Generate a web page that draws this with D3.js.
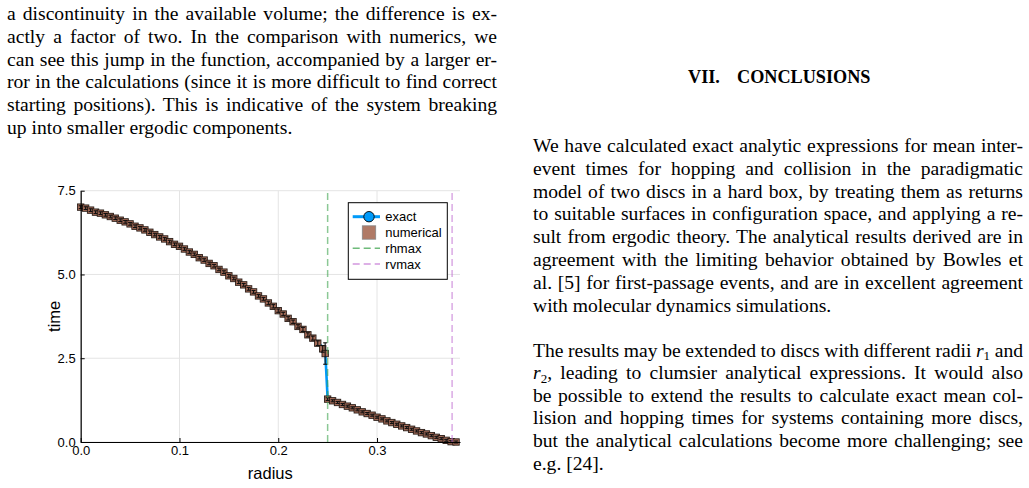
<!DOCTYPE html>
<html>
<head>
<meta charset="utf-8">
<script src="https://cdn.jsdelivr.net/npm/d3@7"></script>
<style>
body { margin: 0; background: #fff; }
svg { display: block; }
.page text { font-family: "Liberation Serif", "Times New Roman", serif; font-size: 19.6px; fill: #000; }
.chart text { font-family: "Liberation Sans", Arial, Helvetica, sans-serif; fill: #000; }
</style>
</head>
<body>
<svg id="page" width="1029" height="488"></svg>
<script>
/*global d3*/

// mean time vs disc radius
const radius = [
    0.000, 0.005, 0.010, 0.015, 0.020, 0.025, 0.030, 0.035, 0.040, 0.045,
    0.050, 0.055, 0.060, 0.065, 0.070, 0.075, 0.080, 0.085, 0.090, 0.095,
    0.100, 0.105, 0.110, 0.115, 0.120, 0.125, 0.130, 0.135, 0.140, 0.145,
    0.150, 0.155, 0.160, 0.165, 0.170, 0.175, 0.180, 0.185, 0.190, 0.195,
    0.200, 0.205, 0.210, 0.215, 0.220, 0.225, 0.230, 0.235, 0.240, 0.245,
    0.2475,
    0.250, 0.255, 0.260, 0.265, 0.270, 0.275, 0.280, 0.285, 0.290, 0.295,
    0.300, 0.305, 0.310, 0.315, 0.320, 0.325, 0.330, 0.335, 0.340, 0.345,
    0.350, 0.355, 0.360, 0.365, 0.370, 0.375, 0.380
];
const exactTime = [
    7.00, 6.96, 6.92, 6.87, 6.82, 6.78, 6.73, 6.67, 6.62, 6.56,
    6.51, 6.45, 6.39, 6.32, 6.26, 6.19, 6.12, 6.05, 5.98, 5.91,
    5.83, 5.75, 5.67, 5.59, 5.51, 5.42, 5.34, 5.25, 5.16, 5.06,
    4.97, 4.87, 4.78, 4.68, 4.57, 4.47, 4.37, 4.26, 4.15, 4.04,
    3.93, 3.81, 3.70, 3.58, 3.46, 3.34, 3.21, 3.09, 2.96, 2.83,
    2.74,
    1.29, 1.23, 1.18, 1.12, 1.07, 1.01, 0.96, 0.90, 0.85, 0.79,
    0.74, 0.69, 0.63, 0.58, 0.53, 0.48, 0.43, 0.38, 0.33, 0.28,
    0.23, 0.19, 0.14, 0.10, 0.05, 0.01, 0.00
];
const numTime = [
    7.01, 6.98, 6.92, 6.86, 6.83, 6.78, 6.73, 6.68, 6.62, 6.57,
    6.51, 6.44, 6.39, 6.33, 6.26, 6.19, 6.12, 6.06, 5.98, 5.90,
    5.84, 5.76, 5.67, 5.60, 5.50, 5.43, 5.33, 5.26, 5.15, 5.07,
    4.96, 4.88, 4.77, 4.69, 4.57, 4.48, 4.36, 4.27, 4.15, 4.05,
    3.92, 3.82, 3.69, 3.59, 3.45, 3.36, 3.20, 3.10, 2.95, 2.78,
    2.64,
    1.28, 1.23, 1.18, 1.12, 1.07, 1.02, 0.96, 0.90, 0.85, 0.80,
    0.74, 0.69, 0.63, 0.58, 0.53, 0.48, 0.43, 0.38, 0.33, 0.28,
    0.24, 0.19, 0.14, 0.10, 0.05, 0.01, 0.00
];
const numErr = [
    0.04, 0.04, 0.04, 0.04, 0.04, 0.04, 0.04, 0.04, 0.04, 0.04,
    0.04, 0.04, 0.04, 0.04, 0.04, 0.04, 0.04, 0.04, 0.04, 0.04,
    0.04, 0.04, 0.04, 0.04, 0.04, 0.04, 0.04, 0.04, 0.04, 0.04,
    0.04, 0.04, 0.04, 0.04, 0.04, 0.04, 0.04, 0.04, 0.05, 0.05,
    0.05, 0.05, 0.05, 0.05, 0.05, 0.06, 0.06, 0.06, 0.07, 0.10,
    0.32,
    0.04, 0.03, 0.03, 0.03, 0.03, 0.03, 0.03, 0.03, 0.03, 0.03,
    0.03, 0.03, 0.03, 0.03, 0.03, 0.03, 0.03, 0.03, 0.03, 0.03,
    0.03, 0.03, 0.03, 0.03, 0.03, 0.03, 0.03
];

const seriesNames = ["exact", "numerical"];
const vlineNames = ["rhmax", "rvmax"];
const vlineValues = [0.25, 0.376];
const xTicks = [0, 0.1, 0.2, 0.3];
const yTicks = [0, 2.5, 5, 7.5];
const xDomain = [0, 0.384];
const yDomain = [0, 7.5];

// page text
const leftLines = [
    ["a discontinuity in the available volume; the difference is ex-"],
    ["actly a factor of two.  In the comparison with numerics, we"],
    ["can see this jump in the function, accompanied by a larger er-"],
    ["ror in the calculations (since it is more difficult to find correct"],
    ["starting positions).  This is indicative of the system breaking"],
    ["up into smaller ergodic components."]
];
const rightPara1 = [
    ["We have calculated exact analytic expressions for mean inter-"],
    ["event times for hopping and collision in the paradigmatic"],
    ["model of two discs in a hard box, by treating them as returns"],
    ["to suitable surfaces in configuration space, and applying a re-"],
    ["sult from ergodic theory. The analytical results derived are in"],
    ["agreement with the limiting behavior obtained by Bowles et"],
    ["al.  [5] for first-passage events, and are in excellent agreement"],
    ["with molecular dynamics simulations."]
];
const rightPara2 = [
    ["The results may be extended to discs with different radii ", { it: "r" }, { sub: "1" }, " and"],
    [{ it: "r" }, { sub: "2" }, ", leading to clumsier analytical expressions.  It would also"],
    ["be possible to extend the results to calculate exact mean col-"],
    ["lision and hopping times for systems containing more discs,"],
    ["but the analytical calculations become more challenging; see"],
    ["e.g. [24]."]
];

const colors = {
    exact: "#009af9",
    numerical: "#a56c59",
    rhmax: "#3ea44e",
    rvmax: "#c271d2"
};

const svg = d3.select("#page");

// ---------- text ----------
const page = svg.append("g").attr("class", "page");

function drawPara(lines, x0, width, y0, lh) {
    lines.forEach((parts, i) => {
        const t = page.append("text").attr("x", x0).attr("y", y0 + i * lh);
        let raised = false;
        parts.forEach(p => {
            const ts = t.append("tspan");
            if (raised) { ts.attr("dy", -3.5); raised = false; }
            if (typeof p === "string") ts.text(p);
            else if (p.it) ts.attr("font-style", "italic").text(p.it);
            else if (p.sub) { ts.attr("dy", 3.5).style("font-size", "13px").text(p.sub); raised = true; }
        });
        // justify every line except a paragraph's last
        if (i < lines.length - 1) {
            const nat = t.node().getComputedTextLength();
            const n = (t.text().trim().match(/\s+/g) || []).length;
            if (n) t.attr("word-spacing", (width - nat) / n);
        }
    });
}

drawPara(leftLines, 7, 490, 20, 22.8);
drawPara(rightPara1, 533, 490, 152, 22.8);
drawPara(rightPara2, 533, 490, 356.5, 22.6);

page.append("text").attr("x", 688).attr("y", 83).attr("font-weight", "bold").style("font-size", "18.2px").text("VII.");
page.append("text").attr("x", 737).attr("y", 83).attr("font-weight", "bold").style("font-size", "18.2px").text("CONCLUSIONS");

// ---------- chart ----------
const chart = svg.append("g").attr("class", "chart");

const x = d3.scaleLinear().domain(xDomain).range([80.7, 460]);
const y = d3.scaleLinear().domain(yDomain).range([442, 190.7]);

const points = radius.map((r, i) => ({ r, exact: exactTime[i], num: numTime[i], err: numErr[i] }));

// grid
chart.append("g")
    .selectAll("line")
    .data(xTicks)
    .enter()
    .append("line")
    .attr("x1", d => x(d)).attr("x2", d => x(d))
    .attr("y1", y(yDomain[0])).attr("y2", y(yDomain[1]))
    .attr("stroke", "#e4e4e4").attr("stroke-width", 1);

chart.append("g")
    .selectAll("line")
    .data(yTicks)
    .enter()
    .append("line")
    .attr("x1", x(xDomain[0])).attr("x2", x(xDomain[1]))
    .attr("y1", d => y(d)).attr("y2", d => y(d))
    .attr("stroke", "#e4e4e4").attr("stroke-width", 1);

// exact line
chart.append("path")
    .datum(points)
    .attr("fill", "none")
    .attr("stroke", colors.exact)
    .attr("stroke-width", 2.6)
    .attr("d", d3.line().x(d => x(d.r)).y(d => y(d.exact)));

// numerical: markers then error bars
chart.append("g")
    .selectAll("rect")
    .data(points)
    .enter()
    .append("rect")
    .attr("x", d => x(d.r) - 3.2)
    .attr("y", d => y(d.num) - 3.2)
    .attr("width", 6.4)
    .attr("height", 6.4)
    .attr("fill", colors.numerical)
    .attr("stroke", "#1a0f0a")
    .attr("stroke-width", 0.9)
    .attr("stroke-opacity", 0.9);

const eb = chart.append("g").attr("stroke", "#111").attr("stroke-width", 1.1);
eb.selectAll(".eb-v")
    .data(points)
    .enter()
    .append("line")
    .attr("x1", d => x(d.r)).attr("x2", d => x(d.r))
    .attr("y1", d => y(d.num - d.err)).attr("y2", d => y(d.num + d.err));
eb.selectAll(".eb-top")
    .data(points)
    .enter()
    .append("line")
    .attr("x1", d => x(d.r) - 2).attr("x2", d => x(d.r) + 2)
    .attr("y1", d => y(d.num + d.err)).attr("y2", d => y(d.num + d.err));
eb.selectAll(".eb-bot")
    .data(points)
    .enter()
    .append("line")
    .attr("x1", d => x(d.r) - 2).attr("x2", d => x(d.r) + 2)
    .attr("y1", d => y(d.num - d.err)).attr("y2", d => y(d.num - d.err));

// vertical reference lines
chart.append("g")
    .selectAll("line")
    .data(vlineValues)
    .enter()
    .append("line")
    .attr("x1", d => x(d)).attr("x2", d => x(d))
    .attr("y1", y(yDomain[0])).attr("y2", y(yDomain[1]))
    .attr("stroke", (d, i) => colors[vlineNames[i]])
    .attr("stroke-opacity", 0.6)
    .attr("stroke-width", 1.5)
    .attr("stroke-dasharray", "7,4");

// axes
const fmt = d3.format(".1f");
const xAxis = chart.append("g")
    .attr("transform", `translate(0, ${y(0)})`)
    .call(d3.axisBottom(x).tickValues(xTicks).tickFormat(fmt).tickSizeInner(-4).tickSizeOuter(0).tickPadding(4));
const yAxis = chart.append("g")
    .attr("transform", `translate(${x(0)}, 0)`)
    .call(d3.axisLeft(y).tickValues(yTicks).tickFormat(fmt).tickSizeInner(-4).tickSizeOuter(0).tickPadding(5));
[xAxis, yAxis].forEach(a => {
    a.attr("font-family", null).attr("font-size", null);
    a.selectAll("text").style("font-size", "13px");
    a.select(".domain").attr("stroke", "#000").attr("stroke-width", 1.2);
});

chart.append("text")
    .attr("x", (x.range()[0] + x.range()[1]) / 2)
    .attr("y", 479)
    .attr("text-anchor", "middle")
    .style("font-size", "16.5px")
    .text("radius");

chart.append("text")
    .attr("transform", `translate(60, ${(y.range()[0] + y.range()[1]) / 2}) rotate(-90)`)
    .attr("text-anchor", "middle")
    .style("font-size", "16.5px")
    .text("time");

// legend
const legend = chart.append("g").attr("transform", "translate(348.3, 202.7)");
legend.append("rect")
    .attr("width", 99).attr("height", 76.6)
    .attr("fill", "#fff").attr("stroke", "#000").attr("stroke-width", 1);

const legendItems = seriesNames.concat(vlineNames);
const rowY = i => 14 + i * 15.8;
const item = legend.selectAll(".item")
    .data(legendItems)
    .enter()
    .append("g")
    .attr("class", "item")
    .attr("transform", (d, i) => `translate(0, ${rowY(i)})`);

item.append("text")
    .attr("x", 37)
    .attr("dy", "0.35em")
    .style("font-size", "13px")
    .text(d => d);

item.filter(d => d === "exact").each(function () {
    const g = d3.select(this);
    g.append("line").attr("x1", 4.4).attr("x2", 31.7).attr("stroke", colors.exact).attr("stroke-width", 3);
    g.append("circle").attr("cx", 20.7).attr("r", 5.2).attr("fill", colors.exact).attr("stroke", "#000").attr("stroke-width", 0.9);
});
item.filter(d => d === "numerical").append("rect")
    .attr("x", 14).attr("y", -6.7).attr("width", 13.4).attr("height", 13.4)
    .attr("fill", "#b07a66").attr("stroke", "#888").attr("stroke-width", 0.8);
item.filter(d => vlineNames.includes(d)).append("line")
    .attr("x1", 4.4).attr("x2", 31.7)
    .attr("stroke", d => colors[d])
    .attr("stroke-opacity", 0.75)
    .attr("stroke-width", 1.5)
    .attr("stroke-dasharray", "7,4");
</script>
</body>
</html>
